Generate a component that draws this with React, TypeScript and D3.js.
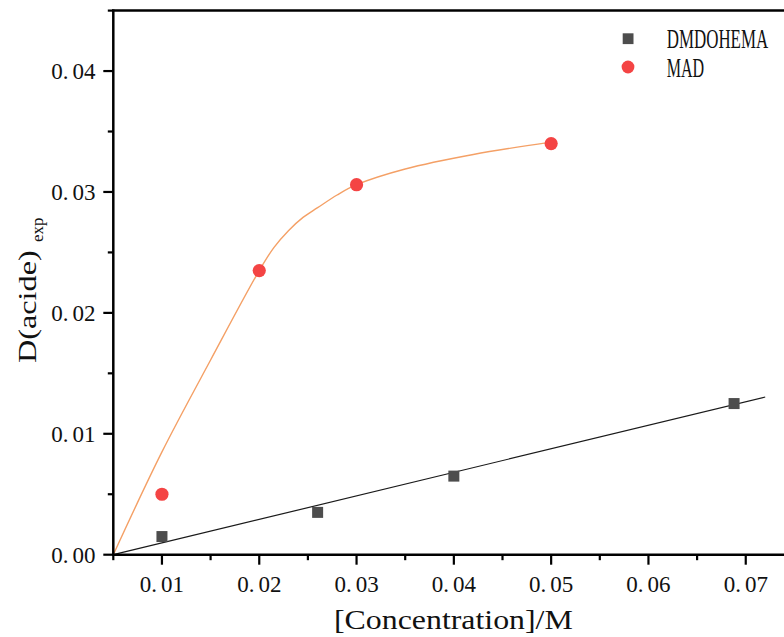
import React from "react";
import * as d3 from "d3";

// ---- data ----
const xMajorTicks = [0.01, 0.02, 0.03, 0.04, 0.05, 0.06, 0.07];
const xTickLabels = ["0.01", "0.02", "0.03", "0.04", "0.05", "0.06", "0.07"];
const xMinorTicks = [0.005, 0.015, 0.025, 0.035, 0.045, 0.055, 0.065, 0.075];
const yMajorTicks = [0, 0.01, 0.02, 0.03, 0.04];
const yTickLabels = ["0.00", "0.01", "0.02", "0.03", "0.04"];
const yMinorTicks = [0.005, 0.015, 0.025, 0.035, 0.045];

const dmdX = [0.01, 0.026, 0.04, 0.0688];
const dmdY = [0.0015, 0.0035, 0.0065, 0.0125];
const dmdFitX = [0.005, 0.072];
const dmdFitY = [0, 0.01304];

const madX = [0.01, 0.02, 0.03, 0.05];
const madY = [0.005, 0.0235, 0.0306, 0.034];
const madFitX = [0.005, 0.01, 0.015, 0.02, 0.0215, 0.023, 0.0245, 0.026, 0.028, 0.03, 0.035, 0.042, 0.0498];
const madFitY = [0, 0.0085, 0.0161, 0.0235, 0.0254, 0.0268, 0.0279, 0.0287, 0.02975, 0.0306, 0.0319, 0.0331, 0.0341];

const legendNames = ["DMDOHEMA", "MAD"];

const FONT = "'Liberation Serif', 'Times New Roman', serif";

export default function App() {
  const W = 784, H = 637;
  const x = d3.scaleLinear().domain([0.005, 0.075]).range([113.3, 794.4]);
  const y = d3.scaleLinear().domain([0, 0.045]).range([554.7, 10.6]);

  const madLine = d3
    .line<number>()
    .x((_, i) => x(madFitX[i]))
    .y((d) => y(d))
    .curve(d3.curveCatmullRom.alpha(0.5))(madFitY) as string;
  const dmdLine = d3
    .line<number>()
    .x((_, i) => x(dmdFitX[i]))
    .y((d) => y(d))(dmdFitY) as string;

  const split = (s: string) => {
    const k = s.indexOf(".");
    return [s.slice(0, k + 1), s.slice(k + 1)];
  };

  const x0 = x(0.005), y0 = y(0), yTop = y(0.045);

  return (
    <svg width={W} height={H} style={{ position: "absolute", left: 0, top: 0, background: "#fff" }} fontFamily={FONT}>
      <rect x={0} y={0} width={W} height={H} fill="#fff" />
      {/* fit lines */}
      <path d={dmdLine} fill="none" stroke="#1a1a1a" strokeWidth={1.2} />
      <path d={madLine} fill="none" stroke="#f4a066" strokeWidth={1.4} />
      {/* points */}
      {dmdX.map((v, i) => (
        <rect key={"d" + i} x={x(v) - 5.5} y={y(dmdY[i]) - 5.5} width={11} height={11} fill="#4d4d4d" />
      ))}
      {madX.map((v, i) => (
        <circle key={"m" + i} cx={x(v)} cy={y(madY[i])} r={6.6} fill="#f44444" />
      ))}
      {/* axes */}
      <line x1={x0} x2={W + 5} y1={y0} y2={y0} stroke="#000" strokeWidth={2.5} />
      <line x1={x0} x2={x0} y1={y0 + 1.2} y2={yTop - 1.2} stroke="#000" strokeWidth={2.5} />
      <line x1={x0 - 1.2} x2={W + 5} y1={yTop} y2={yTop} stroke="#000" strokeWidth={2.5} />
      {xMajorTicks.map((v) => (
        <line key={"xt" + v} x1={x(v)} x2={x(v)} y1={y0} y2={y0 + 10} stroke="#000" strokeWidth={2.2} />
      ))}
      {xMinorTicks.map((v) => (
        <line key={"xm" + v} x1={x(v)} x2={x(v)} y1={y0} y2={y0 + 5.5} stroke="#000" strokeWidth={2.2} />
      ))}
      {yMajorTicks.map((v) => (
        <line key={"yt" + v} x1={x0 - 10} x2={x0} y1={y(v)} y2={y(v)} stroke="#000" strokeWidth={2.2} />
      ))}
      {yMinorTicks.map((v) => (
        <line key={"ym" + v} x1={x0 - 5.5} x2={x0} y1={y(v)} y2={y(v)} stroke="#000" strokeWidth={2.2} />
      ))}
      {/* tick labels */}
      {xMajorTicks.map((v, i) => {
        const [a, b] = split(xTickLabels[i]);
        return (
          <text key={"xl" + v} x={x(v)} y={592} textAnchor="middle" fontSize={23} fill="#111">
            {a}
            <tspan dx={4}>{b}</tspan>
          </text>
        );
      })}
      {yMajorTicks.map((v, i) => {
        const [a, b] = split(yTickLabels[i]);
        return (
          <text key={"yl" + v} x={95.5} y={y(v) + 8} textAnchor="end" fontSize={23} fill="#111">
            {a}
            <tspan dx={4}>{b}</tspan>
          </text>
        );
      })}
      {/* axis titles */}
      <text transform="translate(334,629) scale(1.18,1)" fontSize={27} fill="#111">
        [Concentration]/M
      </text>
      <text transform="translate(36,363) rotate(-90) scale(1.24,1)" fontSize={26} fill="#111">
        D(acide)
      </text>
      <text transform="translate(43,242) rotate(-90)" fontSize={17} fill="#111">
        exp
      </text>
      {/* legend */}
      <rect x={622.7} y={33.3} width={10.8} height={10.8} fill="#4d4d4d" />
      <circle cx={628} cy={67} r={6.4} fill="#f44444" />
      <text transform="translate(666.7,48.3) scale(0.627,1)" fontSize={27} fill="#111">
        {legendNames[0]}
      </text>
      <text transform="translate(666.7,76.7) scale(0.595,1)" fontSize={27} fill="#111">
        {legendNames[1]}
      </text>
    </svg>
  );
}
